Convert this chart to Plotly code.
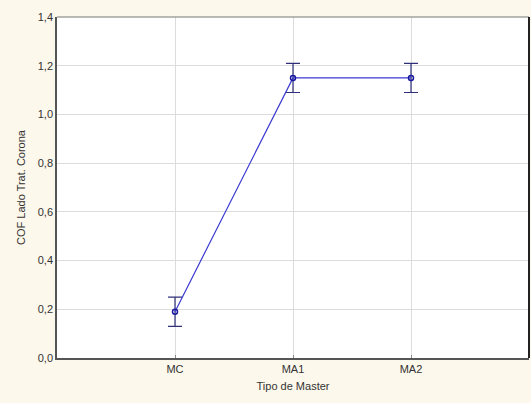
import plotly.graph_objects as go

# Coefficient of friction (treated side, corona) per master type
categories = ["MC", "MA1", "MA2"]
cof_mean = [0.19, 1.15, 1.15]
cof_err = [0.06, 0.06, 0.06]
y_ticks = [0.0, 0.2, 0.4, 0.6, 0.8, 1.0, 1.2, 1.4]
y_tick_labels = ["0,0", "0,2", "0,4", "0,6", "0,8", "1,0", "1,2", "1,4"]

x_idx = list(range(len(categories)))

fig = go.Figure()
fig.add_trace(go.Scatter(
    x=x_idx, y=cof_mean,
    mode="lines+markers",
    line=dict(color="#3a3ad0", width=1.2),
    marker=dict(symbol="circle-open", size=5, color="#1a1aa0", line=dict(width=1.5)),
    error_y=dict(type="data", array=cof_err, visible=True,
                 color="#30307a", thickness=1.2, width=7),
    showlegend=False,
))

font = "Liberation Sans, Arial, sans-serif"
fig.update_layout(
    width=531, height=403,
    margin=dict(l=57, r=2, t=17, b=45),
    paper_bgcolor="#fdf8ec",
    plot_bgcolor="#ffffff",
    font=dict(family=font, size=11, color="#333333"),
    xaxis=dict(
        range=[-1, 3],
        tickmode="array", tickvals=x_idx, ticktext=categories,
        showgrid=True, gridcolor="#dcdcdc", gridwidth=1,
        zeroline=False,
        showline=True, linecolor="#555555", linewidth=1.5, mirror=False,
        ticks="inside", ticklen=3, tickcolor="#888888",
        title=dict(text="Tipo de Master", font=dict(size=11, family=font), standoff=8),
        fixedrange=True,
    ),
    yaxis=dict(
        range=[0, 1.4],
        tickmode="array", tickvals=y_ticks, ticktext=y_tick_labels,
        showgrid=True, gridcolor="#dcdcdc", gridwidth=1,
        zeroline=False,
        showline=True, linecolor="#555555", linewidth=1.5,
        ticks="",
        title=dict(text="COF Lado Trat. Corona", font=dict(size=11, family=font), standoff=10),
        fixedrange=True,
    ),
    shapes=[
        # top and right frame of the plotting area
        dict(type="line", xref="paper", yref="paper", x0=0, x1=1, y0=1, y1=1,
             line=dict(color="#777777", width=1)),
        dict(type="line", xref="paper", yref="paper", x0=1, x1=1, y0=0, y1=1,
             line=dict(color="#222222", width=2)),
    ],
)

fig.write_html("out.html")
